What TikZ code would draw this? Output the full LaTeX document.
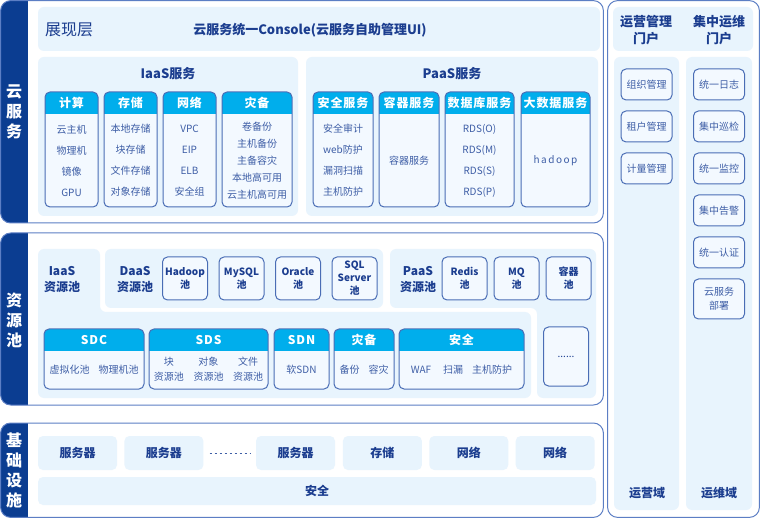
\documentclass[tikz,border=0pt]{standalone}
\usepackage{fontspec}
\newfontfamily\cjk{Noto Sans CJK SC}
\usetikzlibrary{positioning}

\definecolor{navy}{HTML}{0B3D91}
\definecolor{frameline}{HTML}{5C7EC4}
\definecolor{panelfill}{HTML}{E8F4FD}
\definecolor{cellfill}{HTML}{F3F9FF}
\definecolor{hdrcol}{HTML}{00AEEC}
\definecolor{celledge}{HTML}{4A6DB5}
\definecolor{titletext}{HTML}{1B3D8F}
\definecolor{bodytext}{HTML}{3E5EA6}

% box with a cyan header: name, x1, y1, x2, y2, header, body, body style
\newcommand{\svcbox}[8]{%
  \fill[cellfill, rounded corners=5pt] (#2,#3) rectangle (#4,#5);
  \begin{scope}
    \clip[rounded corners=5pt] (#2,#3) rectangle (#4,#5);
    \fill[hdrcol] (#2,#3) rectangle (#4,#3+22);
  \end{scope}
  \draw[celledge, line width=1pt, rounded corners=5pt] (#2,#3) rectangle (#4,#5);
  \node[hdrtext] (#1t) at ({(#2+#4)/2},#3+11) {#6};
  \node[#8] (#1b) at ({(#2+#4)/2},{(#3+#5)/2+11}) {#7};
}

\begin{document}
\begin{tikzpicture}
    [x=1pt,y=-1pt,
     every node/.style={font=\cjk, inner sep=0pt},
     frame/.style={draw=frameline, line width=1pt, rounded corners=10pt},
     panel/.style={fill=panelfill, rounded corners=6pt},
     bandtext/.style={font=\cjk\bfseries\fontsize{16}{20}\selectfont, text=white, align=center},
     title/.style={font=\cjk\bfseries\fontsize{13}{16}\selectfont, text=titletext, align=center},
     label/.style={font=\cjk\bfseries\fontsize{12}{16}\selectfont, text=titletext, align=center},
     hdrtext/.style={font=\cjk\bfseries\fontsize{12}{14}\selectfont\addfontfeatures{LetterSpace=8}, text=white},
     list/.style={font=\cjk\fontsize{10}{21}\selectfont, text=bodytext, align=center},
     tightlist/.style={font=\cjk\fontsize{10}{17}\selectfont, text=bodytext, align=center},
     pair/.style={font=\cjk\fontsize{10}{15}\selectfont, text=bodytext, align=center},
     poolbox/.style={draw=celledge, line width=1pt, fill=cellfill, rounded corners=5pt,
        minimum width=45pt, minimum height=43pt, align=center,
        font=\cjk\bfseries\fontsize{10}{13}\selectfont, text=titletext},
     sidebox/.style={draw=celledge, line width=1pt, fill=cellfill, rounded corners=5pt,
        minimum width=51pt, minimum height=31pt, align=center,
        font=\cjk\fontsize{10}{14}\selectfont, text=bodytext},
     infrabox/.style={fill=panelfill, rounded corners=5pt, minimum width=79pt,
        minimum height=34pt, font=\cjk\bfseries\fontsize{12}{14}\selectfont, text=titletext}]
    \useasboundingbox (0,0) rectangle (760,518);

    % left frames with navy band
    \begin{scope}
        \clip[rounded corners=10pt] (0.6,0.6) rectangle (603.4,223);
        \fill[white] (0,0) rectangle (604,224);
        \fill[navy] (0,0) rectangle (28,224);
    \end{scope}
    \draw[frame] (0.6,0.6) rectangle (603.4,223);
    \node[bandtext] (cloud) at (14,112) {云\\服\\务};

    \begin{scope}
        \clip[rounded corners=10pt] (0.6,233) rectangle (603.4,405);
        \fill[white] (0,232) rectangle (604,406);
        \fill[navy] (0,232) rectangle (28,406);
    \end{scope}
    \draw[frame] (0.6,233) rectangle (603.4,405);
    \node[bandtext] (pool) at (14,320) {资\\源\\池};

    \begin{scope}
        \clip[rounded corners=10pt] (0.6,423) rectangle (603.4,517.4);
        \fill[white] (0,422) rectangle (604,518);
        \fill[navy] (0,422) rectangle (28,518);
    \end{scope}
    \draw[frame] (0.6,423) rectangle (603.4,517.4);
    \node[bandtext] (infra) at (14,470) {基\\础\\设\\施};

    % cloud services
    \fill[panel] (38,7) rectangle (600,51);
    \node[font=\cjk\fontsize{16}{18}\selectfont, text=titletext] (show) at (69,30) {展现层};
    \node[title] (console) at (310,30) {云服务统一Console(云服务自助管理UI)};

    \fill[panel] (38,57) rectangle (298,216);
    \node[title] (iaas) at (168,74) {IaaS服务};
    \svcbox{calc}{45}{92}{98}{207}{计算}{云主机\\物理机\\镜像\\GPU}{list}
    \svcbox{store}{104}{92}{157}{207}{存储}{本地存储\\块存储\\文件存储\\对象存储}{list}
    \svcbox{net}{163}{92}{216}{207}{网络}{VPC\\EIP\\ELB\\安全组}{list}
    \svcbox{dr}{222}{92}{292}{207}{灾备}{卷备份\\主机备份\\主备容灾\\本地高可用\\云主机高可用}{tightlist}

    \fill[panel] (306,57) rectangle (598,216);
    \node[title] (paas) at (452,74) {PaaS服务};
    \svcbox{sec}{313}{92}{373}{207}{安全服务}{安全审计\\web防护\\漏洞扫描\\主机防护}{list}
    \svcbox{ctr}{379}{92}{439}{207}{容器服务}{容器服务}{list}
    \svcbox{db}{445}{92}{514}{207}{数据库服务}{RDS(O)\\RDS(M)\\RDS(S)\\RDS(P)}{list}
    \svcbox{big}{521}{92}{590}{207}{大数据服务}{\addfontfeatures{LetterSpace=15}hadoop}{list}

    % resource pools
    \fill[panel] (38,249) -- (100,249) -- (100,312) -- (531,312) -- (531,398) -- (38,398) -- cycle;
    \fill[panel] (105,249) rectangle (383,308);
    \fill[panel] (390,249) -- (596,249) -- (596,398) -- (537,398) -- (537,308) -- (390,308) -- cycle;

    \node[label] (iaaspool) at (62,280) {IaaS\\资源池};
    \node[label] (daaspool) at (135,280) {DaaS\\资源池};
    \node[poolbox] (hadoop) at (185,278.5) {Hadoop\\池};
    \node[poolbox, right=10.5pt of hadoop] (mysql) {MySQL\\池};
    \node[poolbox, right=10.5pt of mysql] (oracle) {Oracle\\池};
    \node[poolbox, right=10.5pt of oracle] (sqlserver) {SQL\\Server\\池};
    \node[label] (paaspool) at (418,280) {PaaS\\资源池};
    \node[poolbox] (redis) at (464.5,278.5) {Redis\\池};
    \node[poolbox, right=6pt of redis] (mq) {MQ\\池};
    \node[poolbox, right=6pt of mq] (ctrpool) {容器\\池};
    \node[poolbox, minimum height=59pt, font=\cjk\fontsize{10}{12}\selectfont] (more) at (566,356.5) {......};

    \svcbox{sdc}{44}{329}{144}{389}{SDC}{虚拟化池\hspace{9pt}物理机池}{pair}
    \svcbox{sds}{149}{329}{268}{389}{SDS}{\setlength{\tabcolsep}{4.8pt}\begin{tabular}{ccc}块&对象&文件\\资源池&资源池&资源池\end{tabular}}{pair}
    \svcbox{sdn}{274}{329}{329}{389}{SDN}{软SDN}{pair}
    \svcbox{bak}{334}{329}{394}{389}{灾备}{备份\hspace{9pt}容灾}{pair}
    \svcbox{safe}{399}{329}{524}{389}{安全}{WAF\hspace{12pt}扫漏\hspace{9pt}主机防护}{pair}

    % infrastructure
    \node[infrabox] (srv1) at (77.5,453) {服务器};
    \node[infrabox, right=7pt of srv1] (srv2) {服务器};
    \node[infrabox] (srv3) at (295.5,453) {服务器};
    \node[infrabox, right=7.5pt of srv3] (disk) {存储};
    \node[infrabox, right=7pt of disk] (lan1) {网络};
    \node[infrabox, right=7pt of lan1] (lan2) {网络};
    \draw[bodytext, line width=0.8pt, dash pattern=on 2.5pt off 2.5pt, shorten <=6pt, shorten >=6pt] (srv2) -- (srv3);
    \node[infrabox, minimum width=558pt, minimum height=28pt] (guard) at (317,491) {安全};

    % side portals
    \fill[white, rounded corners=10pt] (607.6,0.6) rectangle (759.4,517.4);
    \draw[frame] (607.6,0.6) rectangle (759.4,517.4);
    \fill[panel] (613,7) rectangle (753,51);
    \node[title, font=\cjk\bfseries\fontsize{13}{17}\selectfont] (ops) at (646,30) {运营管理\\门户};
    \node[title, font=\cjk\bfseries\fontsize{13}{17}\selectfont] (om) at (719,30) {集中运维\\门户};
    \fill[panel] (614,57) rectangle (679,510);
    \fill[panel] (686,57) rectangle (752,510);

    \node[sidebox] (org) at (646.5,84.5) {组织管理};
    \node[sidebox, below=10pt of org] (tenant) {租户管理};
    \node[sidebox, below=10pt of tenant] (meter) {计量管理};

    \node[sidebox] (log) at (719,84.5) {统一日志};
    \node[sidebox, below=10pt of log] (patrol) {集中巡检};
    \node[sidebox, below=10pt of patrol] (monitor) {统一监控};
    \node[sidebox, below=10pt of monitor] (alarm) {集中告警};
    \node[sidebox, below=10pt of alarm] (auth) {统一认证};
    \node[sidebox, minimum height=40pt, below=10pt of auth] (deploy) {云服务\\部署};

    \node[label] (opsdomain) at (647,493) {运营域};
    \node[label] (omdomain) at (719,493) {运维域};
\end{tikzpicture}
\end{document}
